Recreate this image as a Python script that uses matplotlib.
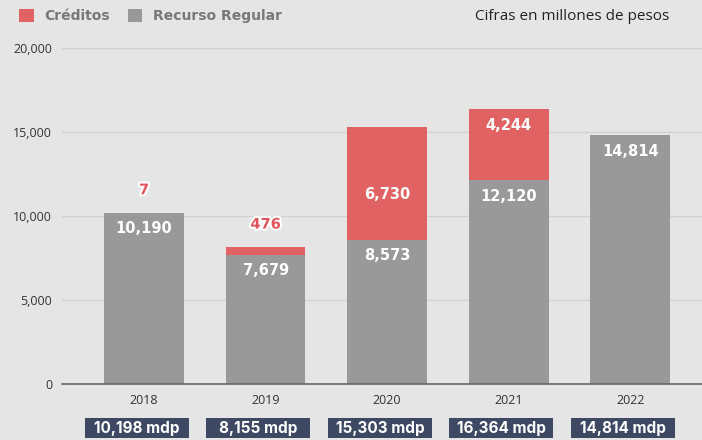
import matplotlib
matplotlib.use('Agg')
import matplotlib.pyplot as plt
import matplotlib.patheffects as pe
from matplotlib.patches import Patch, Rectangle
from matplotlib.transforms import blended_transform_factory

years = ['2018', '2019', '2020', '2021', '2022']
regular = [10190, 7679, 8573, 12120, 14814]
creditos = [7, 476, 6730, 4244, 0]
totals = ['10,198 mdp', '8,155 mdp', '15,303 mdp', '16,364 mdp', '14,814 mdp']
# where the red label sits: above the bar, middle of segment, top of segment
red_where = ['above', 'above', 'mid', 'top', None]

BG = '#e5e5e5'
GREY = '#999999'
RED = '#e06262'
RED_TXT = '#e0555b'
NAVY = '#3d4963'

fig = plt.figure(figsize=(7.02, 4.40), dpi=100, facecolor=BG)
ax = fig.add_axes([62 / 702, 56 / 440, 640 / 702, 336 / 440], facecolor=BG)

x = list(range(len(years)))
ax.bar(x, regular, width=0.655, color=GREY, zorder=2)
ax.bar(x, creditos, bottom=regular, width=0.655, color=RED, zorder=2)

ax.set_xlim(-0.675, 4.59)
ax.set_ylim(0, 20000)
ax.set_yticks([0, 5000, 10000, 15000, 20000])
ax.set_yticklabels(['{:,}'.format(v) for v in [0, 5000, 10000, 15000, 20000]],
                   fontsize=9, family='Open Sans', color='#333333')
ax.set_xticks(x)
ax.set_xticklabels(years, fontsize=9, family='Open Sans', color='#333333')
ax.tick_params(axis='both', length=0)
ax.tick_params(axis='y', pad=7)
ax.tick_params(axis='x', pad=7)
ax.grid(axis='y', color='#d2d2d2', linewidth=1, zorder=0)
for s in ['top', 'right', 'left']:
    ax.spines[s].set_visible(False)
ax.spines['bottom'].set_color('#666666')
ax.spines['bottom'].set_linewidth(1.2)
ax.spines['bottom'].set_zorder(3)

lab = dict(fontsize=10.5, family='DejaVu Sans', fontweight='bold',
           ha='center', va='center', textcoords='offset points', zorder=4)
outline = [pe.withStroke(linewidth=3, foreground='white')]

for i in x:
    ax.annotate('{:,}'.format(regular[i]), (i, regular[i]), xytext=(0, -11.5),
                color='white', **lab)
    top = regular[i] + creditos[i]
    w = red_where[i]
    if w == 'above':
        ax.annotate('{:,}'.format(creditos[i]), (i, top), xytext=(0, 16.5),
                    color=RED_TXT, path_effects=outline, **lab)
    elif w == 'mid':
        ax.annotate('{:,}'.format(creditos[i]), (i, regular[i] + creditos[i] / 2),
                    xytext=(0, -8), color='white', **lab)
    elif w == 'top':
        ax.annotate('{:,}'.format(creditos[i]), (i, top), xytext=(0, -11.5),
                    color='white', **lab)

# total boxes under the year labels
tr = blended_transform_factory(ax.transData, ax.transAxes)
bw = 0.856
for i in x:
    cx = i - 0.06
    ax.add_patch(Rectangle((cx - bw / 2, -0.161), bw, 0.060, transform=tr,
                           facecolor=NAVY, edgecolor='none', clip_on=False, zorder=5))
    ax.text(cx, -0.131, totals[i], transform=tr, ha='center', va='center',
            fontsize=11, family='Inter', fontweight='bold', color='white', zorder=6)

handles = [Patch(facecolor=RED, edgecolor='none', label='Créditos'),
           Patch(facecolor=GREY, edgecolor='none', label='Recurso Regular')]
fig.legend(handles=handles, loc='center left', bbox_to_anchor=(19 / 702, 1 - 16 / 440),
           ncol=2, frameon=False, handlelength=1.05, handleheight=1.05,
           handletextpad=0.75, columnspacing=1.3, borderaxespad=0, borderpad=0,
           labelcolor='#787878',
           prop={'family': 'DejaVu Sans', 'weight': 'bold', 'size': 10})

fig.text(669 / 702, 1 - 16 / 440, 'Cifras en millones de pesos', ha='right', va='center',
         fontsize=11, family='Open Sans', color='#222222')

fig.savefig('out.png', dpi=100, facecolor=BG)
